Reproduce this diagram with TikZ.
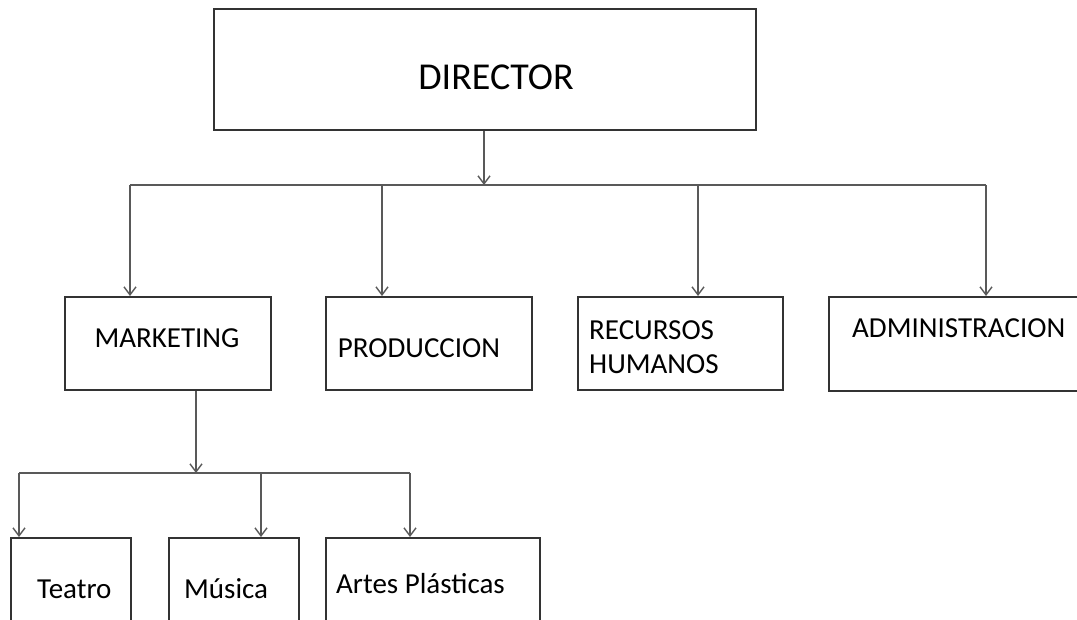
\documentclass[tikz,border=0pt]{standalone}
\usepackage{fontspec}
\setmainfont{Carlito}
\usetikzlibrary{arrows.meta}
\begin{document}
\begin{tikzpicture}[x=1pt,y=-1pt,
  box/.style={draw=black!80,line width=2pt,rectangle,inner sep=0pt},
  conn/.style={draw=black!65,line width=1.8pt},
  arr/.style={conn,-{Straight Barb[length=8pt,width=12pt,line width=1.4pt]}},
  lbl/.style={inner sep=0pt,font=\fontsize{29}{34}\selectfont},
  big/.style={inner sep=0pt,font=\fontsize{38}{44}\selectfont}]
\useasboundingbox (0,0) rectangle (1077,619);
\clip (0,0) rectangle (1077,619);
% boxes
\node[box,minimum width=542pt,minimum height=121pt,anchor=north west] (dir) at (213,8) {};
\node[box,minimum width=206pt,minimum height=93pt,anchor=north west] (mk) at (64,296) {};
\node[box,minimum width=206pt,minimum height=93pt,anchor=north west] (pr) at (325,296) {};
\node[box,minimum width=205pt,minimum height=93pt,anchor=north west] (rh) at (577,296) {};
\node[box,minimum width=270pt,minimum height=94pt,anchor=north west] (ad) at (828,296) {};
\node[box,minimum width=120pt,minimum height=120pt,anchor=north west] (te) at (10,537) {};
\node[box,minimum width=130pt,minimum height=120pt,anchor=north west] (mu) at (168,537) {};
\node[box,minimum width=214pt,minimum height=120pt,anchor=north west] (ap) at (325,537) {};
% texts
\node[big,anchor=base] (tdir) at (496,89) {DIRECTOR};
\node[lbl,anchor=base] (tmk) at (167,347) {MARKETING};
\node[lbl,anchor=base] (tpr) at (419,357) {PRODUCCION};
\node[lbl,anchor=base west] (trh1) at (589,339) {RECURSOS};
\node[lbl,anchor=base west] (trh2) at (589,373) {HUMANOS};
\node[lbl,anchor=base west] (tad) at (852,337) {ADMINISTRACION};
\node[lbl,anchor=base west] (tte) at (37,598) {Teatro};
\node[lbl,anchor=base west] (tmu) at (184,598) {Música};
\node[lbl,anchor=base west] (tap) at (336,593) {Artes Plásticas};
% main bus
\coordinate (b0) at (484,185);
\coordinate (bL) at (130,185);
\coordinate (bP) at (382,185);
\coordinate (bH) at (698,185);
\coordinate (bR) at (986,185);
\draw[arr] (dir.south -| b0) -- (b0);
\draw[conn] (bL) -- (bR);
\draw[arr] (bL) -- (bL |- mk.north);
\draw[arr] (bP) -- (bP |- pr.north);
\draw[arr] (bH) -- (bH |- rh.north);
\draw[arr] (bR) -- (bR |- ad.north);
% sub bus
\coordinate (s0) at (196,473);
\coordinate (sL) at (19,473);
\coordinate (sM) at (261,473);
\coordinate (sR) at (410,473);
\draw[arr] (mk.south -| s0) -- (s0);
\draw[conn] (sL) -- (sR);
\draw[arr] (sL) -- (sL |- te.north);
\draw[arr] (sM) -- (sM |- mu.north);
\draw[arr] (sR) -- (sR |- ap.north);
\end{tikzpicture}
\end{document}
